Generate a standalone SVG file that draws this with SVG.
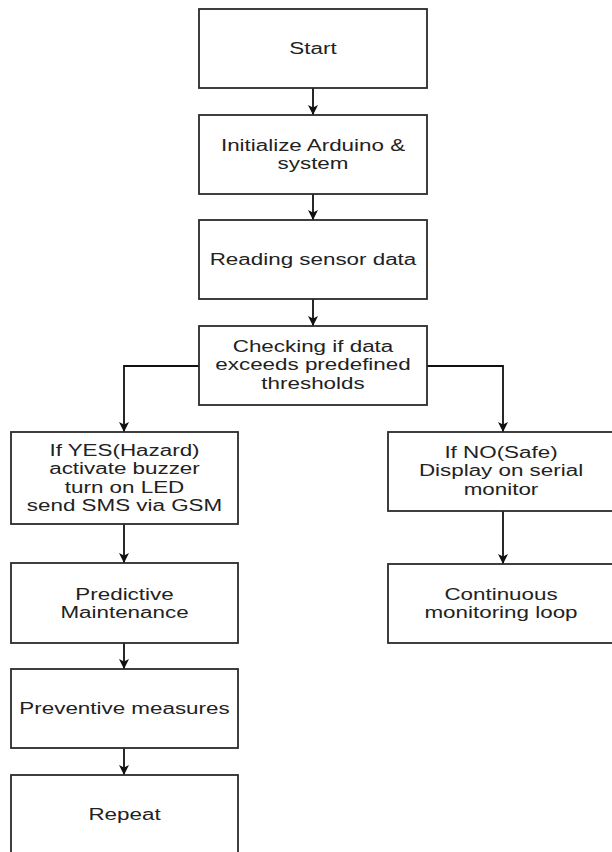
<svg xmlns="http://www.w3.org/2000/svg" width="612" height="852" viewBox="0 0 612 852">
<style>
.box{fill:#ffffff;stroke:#2b2b2b;stroke-width:1.8}
.lbl{font-family:"Liberation Sans",Arial,sans-serif;font-size:16px;fill:#222222;text-anchor:middle}
.edge{fill:none;stroke:#111111;stroke-width:1.8}
</style>
<defs>
<marker id="arr" markerWidth="14" markerHeight="14" refX="11" refY="6" orient="auto" markerUnits="userSpaceOnUse">
<path d="M1,1 L11,6 L1,11 L3.5,6 z" fill="#111111"/>
</marker>
</defs>
<rect width="612" height="852" fill="#ffffff"/>
<g id="connectors">
<path class="edge" d="M313,88 L313,115" marker-end="url(#arr)"/>
<path class="edge" d="M313,194 L313,220" marker-end="url(#arr)"/>
<path class="edge" d="M313,299 L313,326" marker-end="url(#arr)"/>
<path class="edge" d="M199,366 L124,366 L124,432" marker-end="url(#arr)"/>
<path class="edge" d="M427,366 L503,366 L503,432" marker-end="url(#arr)"/>
<path class="edge" d="M124,524 L124,563" marker-end="url(#arr)"/>
<path class="edge" d="M124,643 L124,669" marker-end="url(#arr)"/>
<path class="edge" d="M124,748 L124,775" marker-end="url(#arr)"/>
<path class="edge" d="M503,511 L503,564" marker-end="url(#arr)"/>
</g>
<g id="start">
<rect class="box" x="199" y="9" width="228" height="79"/>
<text class="lbl" transform="translate(313 54) scale(1.4 1)">Start</text>
</g>
<g id="init">
<rect class="box" x="199" y="115" width="228" height="79"/>
<text class="lbl" transform="translate(313 151) scale(1.4 1)"><tspan x="0" y="0">Initialize Arduino &amp;</tspan><tspan x="0" y="18.4">system</tspan></text>
</g>
<g id="read">
<rect class="box" x="199" y="220" width="228" height="79"/>
<text class="lbl" transform="translate(313 265) scale(1.4 1)">Reading sensor data</text>
</g>
<g id="check">
<rect class="box" x="199" y="326" width="228" height="79"/>
<text class="lbl" transform="translate(313 352) scale(1.4 1)"><tspan x="0" y="0">Checking if data</tspan><tspan x="0" y="18.4">exceeds predefined</tspan><tspan x="0" y="36.8">thresholds</tspan></text>
</g>
<g id="yes">
<rect class="box" x="11" y="432" width="227" height="92"/>
<text class="lbl" transform="translate(124.5 456) scale(1.4 1)"><tspan x="0" y="0">If YES(Hazard)</tspan><tspan x="0" y="18.4">activate buzzer</tspan><tspan x="0" y="36.8">turn on LED</tspan><tspan x="0" y="55.2">send SMS via GSM</tspan></text>
</g>
<g id="no">
<rect class="box" x="388" y="432" width="226" height="79"/>
<text class="lbl" transform="translate(501 458) scale(1.4 1)"><tspan x="0" y="0">If NO(Safe)</tspan><tspan x="0" y="18.4">Display on serial</tspan><tspan x="0" y="36.8">monitor</tspan></text>
</g>
<g id="predictive">
<rect class="box" x="11" y="563" width="227" height="80"/>
<text class="lbl" transform="translate(124.5 599.5) scale(1.4 1)"><tspan x="0" y="0">Predictive</tspan><tspan x="0" y="18.4">Maintenance</tspan></text>
</g>
<g id="continuous">
<rect class="box" x="388" y="564" width="226" height="79"/>
<text class="lbl" transform="translate(501 600) scale(1.4 1)"><tspan x="0" y="0">Continuous</tspan><tspan x="0" y="18.4">monitoring loop</tspan></text>
</g>
<g id="preventive">
<rect class="box" x="11" y="669" width="227" height="79"/>
<text class="lbl" transform="translate(124.5 714) scale(1.4 1)">Preventive measures</text>
</g>
<g id="repeat">
<rect class="box" x="11" y="775" width="227" height="80"/>
<text class="lbl" transform="translate(124.5 820) scale(1.4 1)">Repeat</text>
</g>
</svg>
